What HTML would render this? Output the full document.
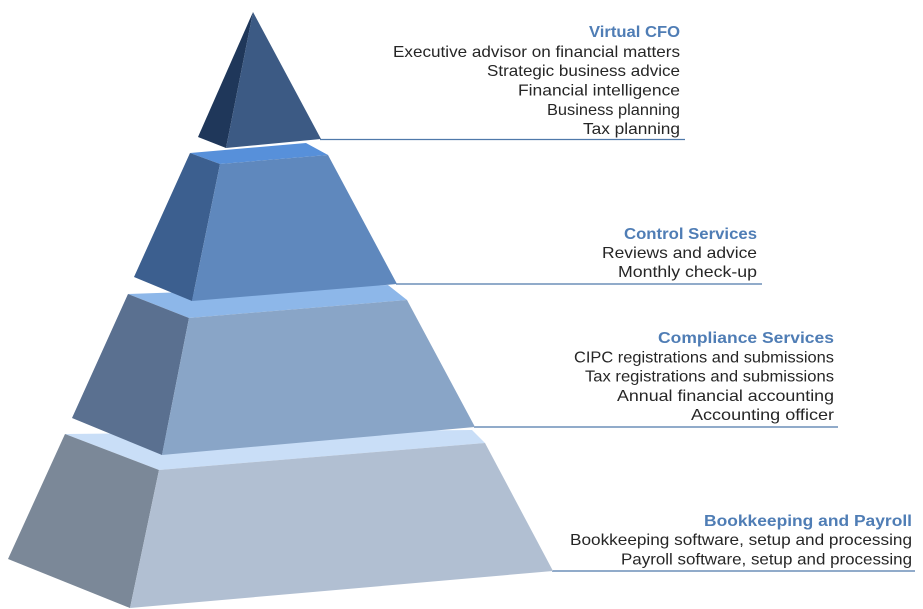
<!DOCTYPE html>
<html>
<head>
<meta charset="utf-8">
<style>
html,body{margin:0;padding:0;background:#fff;}
svg{display:block;}
text{font-family:"Liberation Sans",sans-serif;font-size:16px;fill:#262626;}
.t{font-weight:bold;fill:#4f7db5;}
</style>
</head>
<body>
<svg width="923" height="609" viewBox="0 0 923 609" xmlns="http://www.w3.org/2000/svg">
  <!-- connector lines -->
  <g stroke="#4f79aa" stroke-width="1.3">
    <line x1="320" y1="139.5" x2="685" y2="139.5"/>
    <line x1="396" y1="284" x2="762" y2="284"/>
    <line x1="474" y1="427" x2="838" y2="427"/>
    <line x1="552" y1="571" x2="915" y2="571"/>
  </g>

  <!-- Tier 4 (bottom) -->
  <polygon points="65,434 472,430 485,443 159,470" fill="#c9def7"/>
  <polygon points="65,434 159,470 130,608 8,559" fill="#7b8898"/>
  <polygon points="159,470 485,443 553,571 130,608" fill="#b1bfd2"/>

  <!-- Tier 3 -->
  <polygon points="128,294 388,285 407,300 189,318" fill="#8db7e9"/>
  <polygon points="128,294 189,318 162,455 72,418" fill="#5a7090"/>
  <polygon points="189,318 407,300 475,427 162,455" fill="#89a5c7"/>

  <!-- Tier 2 -->
  <polygon points="190,153 306,143 328,155 220,164" fill="#5790da"/>
  <polygon points="190,153 220,164 192,301 134,277" fill="#3c5f8f"/>
  <polygon points="220,164 328,155 397,284 192,301" fill="#5f88bd"/>

  <!-- Top pyramid -->
  <polygon points="253,12 198,137 226,148" fill="#1f375a"/>
  <polygon points="253,12 226,148 321,139" fill="#3c5a84"/>

  <!-- Virtual CFO -->
  <g text-anchor="end">
    <text class="t" x="680" y="37" textLength="91" lengthAdjust="spacingAndGlyphs">Virtual CFO</text>
    <text x="680" y="57" textLength="287" lengthAdjust="spacingAndGlyphs">Executive advisor on financial matters</text>
    <text x="680" y="76" textLength="193" lengthAdjust="spacingAndGlyphs">Strategic business advice</text>
    <text x="680" y="95.5" textLength="162" lengthAdjust="spacingAndGlyphs">Financial intelligence</text>
    <text x="680" y="115" textLength="133" lengthAdjust="spacingAndGlyphs">Business planning</text>
    <text x="680" y="134" textLength="97" lengthAdjust="spacingAndGlyphs">Tax planning</text>

    <!-- Control Services -->
    <text class="t" x="757" y="239" textLength="133" lengthAdjust="spacingAndGlyphs">Control Services</text>
    <text x="757" y="258" textLength="155" lengthAdjust="spacingAndGlyphs">Reviews and advice</text>
    <text x="757" y="277" textLength="139" lengthAdjust="spacingAndGlyphs">Monthly check-up</text>

    <!-- Compliance Services -->
    <text class="t" x="834" y="343" textLength="176" lengthAdjust="spacingAndGlyphs">Compliance Services</text>
    <text x="834" y="362.5" textLength="260" lengthAdjust="spacingAndGlyphs">CIPC registrations and submissions</text>
    <text x="834" y="381.5" textLength="249" lengthAdjust="spacingAndGlyphs">Tax registrations and submissions</text>
    <text x="834" y="401" textLength="217" lengthAdjust="spacingAndGlyphs">Annual financial accounting</text>
    <text x="834" y="420" textLength="143" lengthAdjust="spacingAndGlyphs">Accounting officer</text>

    <!-- Bookkeeping and Payroll -->
    <text class="t" x="912" y="526" textLength="208" lengthAdjust="spacingAndGlyphs">Bookkeeping and Payroll</text>
    <text x="912" y="545" textLength="342" lengthAdjust="spacingAndGlyphs">Bookkeeping software, setup and processing</text>
    <text x="912" y="564.5" textLength="291" lengthAdjust="spacingAndGlyphs">Payroll software, setup and processing</text>
  </g>
</svg>
</body>
</html>
